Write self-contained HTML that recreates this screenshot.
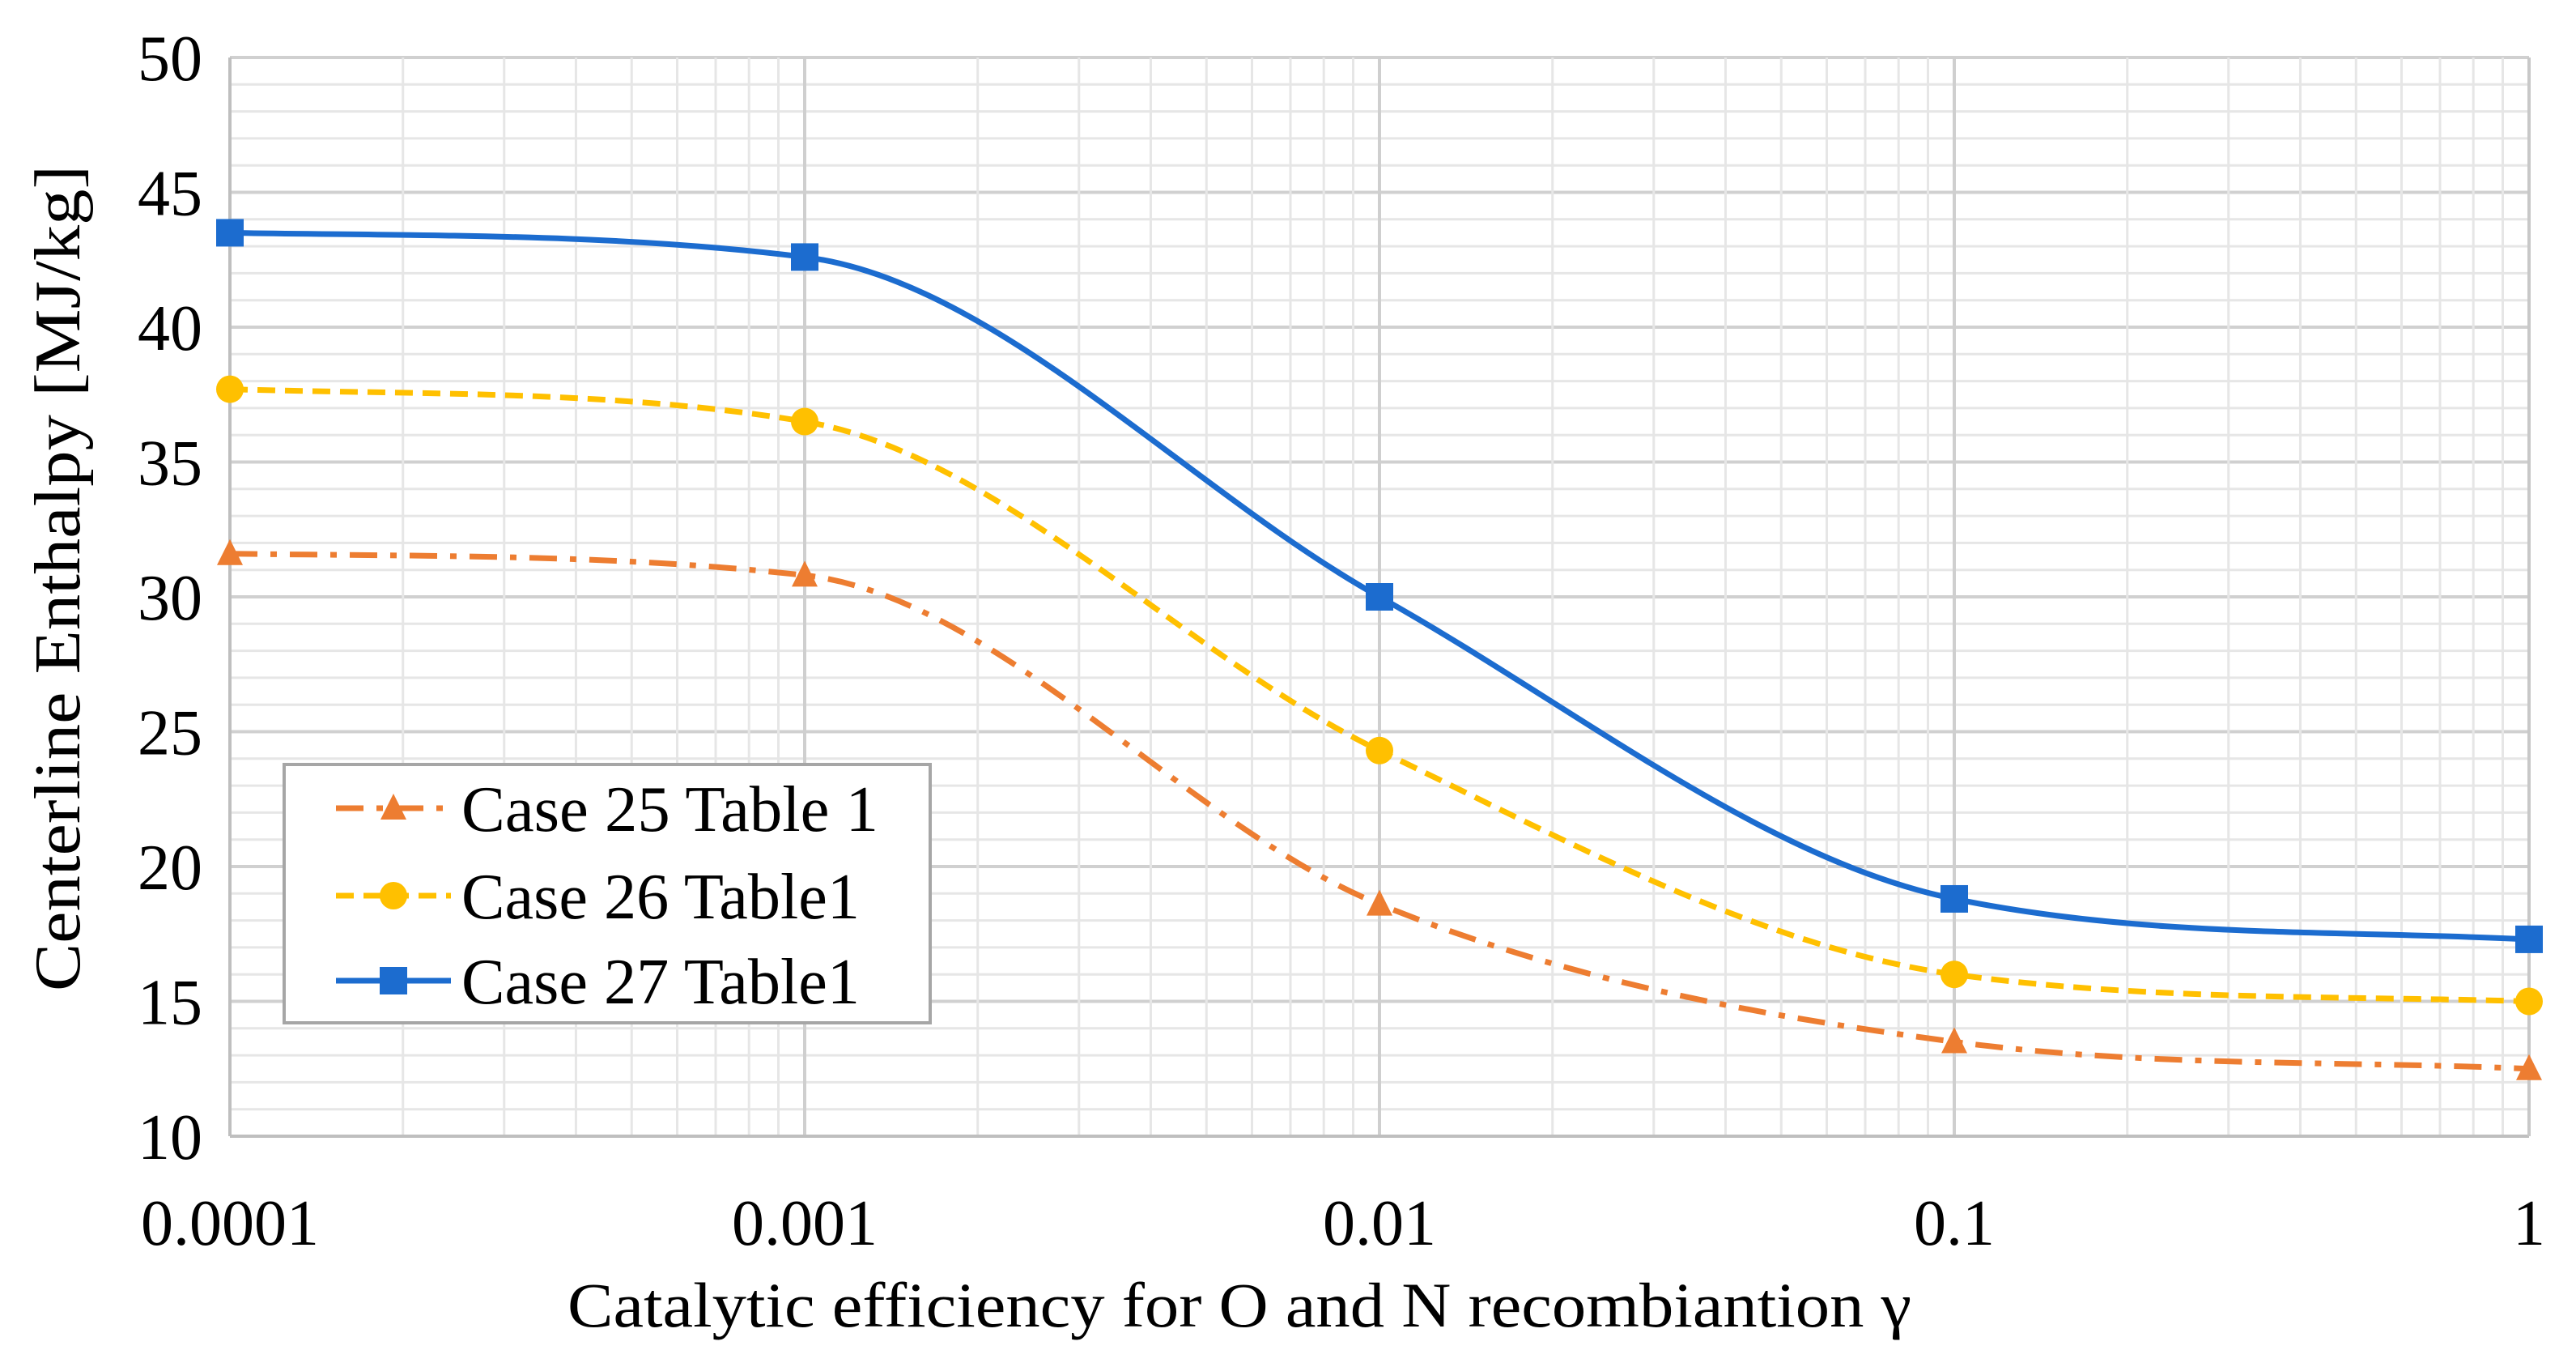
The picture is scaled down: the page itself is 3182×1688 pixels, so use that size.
<!DOCTYPE html>
<html><head><meta charset="utf-8"><style>
html,body{margin:0;padding:0;background:#fff;}
svg{display:block;font-family:"Liberation Serif",serif;}
</style></head><body>
<svg id="chart" width="3182" height="1688" viewBox="0 0 3182 1688">
<g id="grid"></g>
<g id="axes"></g>
<g id="series"></g>
<text x="1531" y="1638" font-size="78" text-anchor="middle" textLength="1660" lengthAdjust="spacingAndGlyphs">Catalytic efficiency for O and N recombiantion γ</text>
<text transform="translate(98,714) rotate(-90)" font-size="80" text-anchor="middle" textLength="1020" lengthAdjust="spacingAndGlyphs">Centerline Enthalpy [MJ/kg]</text>
<g id="legend">
<rect x="351" y="944" width="798" height="319" fill="#fff" stroke="#a6a6a6" stroke-width="4"/>
</g>
</svg>
<script>
const xValues = [0.0001, 0.001, 0.01, 0.1, 1];
const xTickLabels = ["0.0001", "0.001", "0.01", "0.1", "1"];
const yTicks = [10, 15, 20, 25, 30, 35, 40, 45, 50];
const seriesNames = ["Case 25 Table 1", "Case 26 Table1", "Case 27 Table1"];
const case25 = [31.6, 30.8, 18.6, 13.5, 12.5];
const case26 = [37.7, 36.5, 24.3, 16.0, 15.0];
const case27 = [43.5, 42.6, 30.0, 18.8, 17.3];

const NS = "http://www.w3.org/2000/svg";
const L = 284, R = 3124, T = 71, B = 1403;
const yMin = 10, yMax = 50;
function xs(v){ return L + (Math.log10(v) + 4) / 4 * (R - L); }
function ys(v){ return B - (v - yMin) / (yMax - yMin) * (B - T); }
function mk(tag, attrs, parent){
  const e = document.createElementNS(NS, tag);
  for (const k in attrs) e.setAttribute(k, attrs[k]);
  parent.appendChild(e); return e;
}
const grid = document.getElementById('grid');
const axes = document.getElementById('axes');
const series = document.getElementById('series');

for (let v = yMin; v <= yMax; v++) {
  const major = v % 5 === 0;
  const ln = mk('line', {x1:L, x2:R, y1:ys(v), y2:ys(v), stroke: major ? '#d0d0d0' : '#e6e6e6', 'stroke-width': major ? 4 : 3}, grid);
  
  
}
for (let d = -4; d <= 0; d++) {
  for (let m = 1; m <= 9; m++) {
    if (d === 0 && m > 1) break;
    const v = m * Math.pow(10, d);
    const x = xs(v);
    const ln = mk('line', {x1:x, x2:x, y1:T, y2:B, stroke: m === 1 ? '#cfcfcf' : '#e6e6e6', 'stroke-width': m === 1 ? 4 : 3}, grid);
    
    
  }
}
const ax = mk('line', {x1:L, x2:R, y1:B, y2:B, stroke:'#bfbfbf', 'stroke-width':4}, axes);


const ay = mk('line', {x1:L, x2:L, y1:T, y2:B, stroke:'#bfbfbf', 'stroke-width':4}, axes);


const ay2 = mk('line', {x1:R, x2:R, y1:T, y2:B, stroke:'#c8c8c8', 'stroke-width':4}, axes);



yTicks.forEach(v => {
  const t = mk('text', {x:L - 34, y:ys(v) + 28, 'font-size':80, 'text-anchor':'end'}, axes);
  t.textContent = v;
  
  
});
xValues.forEach((v, i) => {
  const t = mk('text', {x:xs(v), y:1537, 'font-size':80, 'text-anchor':'middle'}, axes);
  t.textContent = xTickLabels[i];
  
  
});

// monotone cubic (Fritsch-Carlson) smoothing
function smoothPath(vals){
  const p = vals.map((v, i) => [xs(xValues[i]), ys(v)]);
  const n = p.length, dx = [], dy = [], s = [], m = [];
  for (let i = 0; i < n - 1; i++) { dx.push(p[i+1][0]-p[i][0]); dy.push(p[i+1][1]-p[i][1]); s.push(dy[i]/dx[i]); }
  m[0] = s[0]; m[n-1] = s[n-2];
  for (let i = 1; i < n - 1; i++) m[i] = (s[i-1]*s[i] <= 0) ? 0 : (s[i-1]+s[i])/2;
  for (let i = 0; i < n - 1; i++) {
    if (s[i] === 0) { m[i] = 0; m[i+1] = 0; continue; }
    const a = m[i]/s[i], b = m[i+1]/s[i], h = a*a + b*b;
    if (h > 9) { const t = 3/Math.sqrt(h); m[i] = t*a*s[i]; m[i+1] = t*b*s[i]; }
  }
  let d = 'M' + p[0][0] + ',' + p[0][1];
  for (let i = 0; i < n - 1; i++) {
    const h = dx[i] / 3;
    d += ' C' + (p[i][0]+h) + ',' + (p[i][1]+m[i]*h) + ' ' + (p[i+1][0]-h) + ',' + (p[i+1][1]-m[i+1]*h) + ' ' + p[i+1][0] + ',' + p[i+1][1];
  }
  return d;
}
function marker(shape, x, y, color, parent, name){
  let e;
  if (shape === 'square') e = mk('rect', {x:x - 17, y:y - 17, width:34, height:34, fill:color}, parent);
  else if (shape === 'circle') e = mk('circle', {cx:x, cy:y, r:17, fill:color}, parent);
  else e = mk('polygon', {points:(x) + ',' + (y - 18) + ' ' + (x + 16) + ',' + (y + 14) + ' ' + (x - 16) + ',' + (y + 14), fill:color}, parent);
  
  
}
const defs = [
  {vals: case25, color:'#ED7D31', dash:'34 16 8 16', shape:'triangle', w:7, key:'case-25'},
  {vals: case26, color:'#FFC000', dash:'22 12', shape:'circle', w:7, key:'case-26'},
  {vals: case27, color:'#1C6CCF', dash:'', shape:'square', w:7, key:'case-27'}
];
defs.forEach((s) => {
  const g = mk('g', {}, series);
  
  
  const path = mk('path', {d:smoothPath(s.vals), fill:'none', stroke:s.color, 'stroke-width':s.w, 'stroke-dasharray':s.dash}, g);
  
  
  s.vals.forEach((v, i) => marker(s.shape, xs(xValues[i]), ys(v), s.color, g, s.key + '-point'));
});
const legend = document.getElementById('legend');
const rowY = [998, 1106, 1211];
defs.forEach((s, i) => {
  const g = mk('g', {}, legend);
  
  
  const ln = mk('line', {x1:415, x2:557, y1:rowY[i], y2:rowY[i], stroke:s.color, 'stroke-width':s.w, 'stroke-dasharray':s.dash}, g);
  
  
  marker(s.shape, 486, rowY[i], s.color, g, 'legend-marker');
  const t = mk('text', {x:570, y:rowY[i] + 28, 'font-size':80, textLength: i === 0 ? 515 : 492, lengthAdjust:'spacingAndGlyphs'}, g);
  t.textContent = seriesNames[i];
  
  
});
</script>
</body></html>
